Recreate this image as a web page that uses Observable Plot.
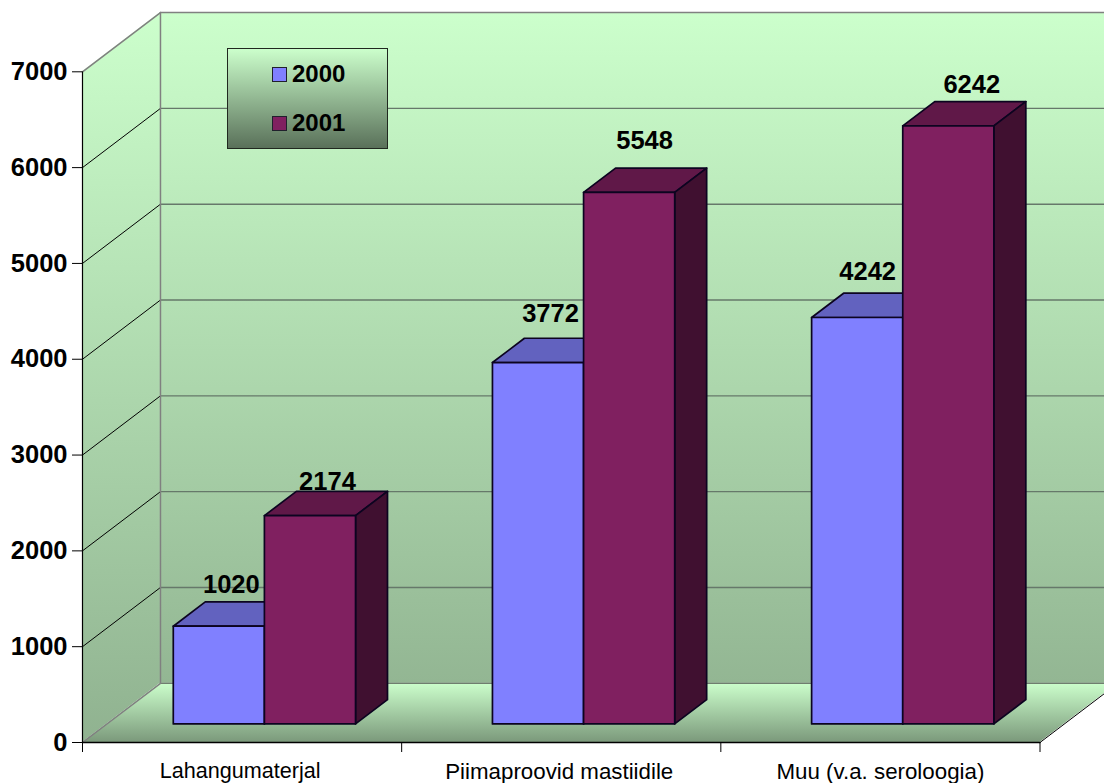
<!DOCTYPE html>
<html>
<head>
<meta charset="utf-8">
<script src="https://cdn.jsdelivr.net/npm/d3@7"></script>
<script src="https://cdn.jsdelivr.net/npm/@observablehq/plot@0.6"></script>
<style>
html,body{margin:0;padding:0;background:#fff;overflow:hidden}
svg{overflow:hidden}
</style>
</head>
<body>
<script>
// ---- data ----
const categories = ["Lahangumaterjal", "Piimaproovid mastiidile", "Muu (v.a. seroloogia)"];
const years = ["2000", "2001"];
const values2000 = [1020, 3772, 4242];
const values2001 = [2174, 5548, 6242];
const yTicks = [0, 1000, 2000, 3000, 4000, 5000, 6000, 7000];

// ---- layout: the 3D box expressed in chart units ----
const yMax = 7000;
const depthX = 0.2443;      // category units moved per full depth
const depthY = 618;         // value units moved per full depth
const barZ0 = 0.305, barZ1 = 0.715;
const barGap = 0.2115, barW = 0.2855;
const P = (c, v, z = 0) => ({x: c + z * depthX, y: v + z * depthY});

// per-label pixel nudges (hand-placed labels in the original), indexed category/series
const nudges = [[[-4, -30], [1, -22]], [[-4, -37], [-1, -40]], [[-6, -34], [7, -29]]];
const categoryFont = [{size: 21.6, dx: -2}, {size: 22.3, dx: -2}, {size: 22.3, dx: 0}];

const seriesStyle = [
  {front: "#8080ff", top: "#6262bf", side: "#404080"},
  {front: "#802060", top: "#601848", side: "#401030"}
];
const barStroke = "#0c0420";

const quad = (a, b, c, d, opts) => Plot.area(
  [{x1: a.x, y1: a.y, x2: d.x, y2: d.y}, {x1: b.x, y1: b.y, x2: c.x, y2: c.y}],
  {x1: "x1", y1: "y1", x2: "x2", y2: "y2", ...opts}
);
const seg = (a, b, opts) => Plot.line([a, b], {x: "x", y: "y", ...opts});

const defs = () => {
  const d = d3.create("svg:defs");
  const grad = (id, stops) => {
    const g = d.append("linearGradient").attr("id", id).attr("x1", 0).attr("y1", 0).attr("x2", 0).attr("y2", 1);
    stops.forEach(([o, c]) => g.append("stop").attr("offset", o).attr("stop-color", c));
  };
  grad("wall", [[0, "#ccffcc"], [1, "#93b693"]]);
  grad("side", [[0, "#ccffcc"], [1, "#90b290"]]);
  grad("floor", [[0, "#ccffcc"], [1, "#7b997b"]]);
  grad("legend", [[0, "#ccffcc"], [1, "#597059"]]);
  return d.node();
};

const marks = [defs];

// walls and floor
marks.push(quad(P(0, 0, 1), P(0, yMax, 1), P(3.5, yMax, 1), P(3.5, 0, 1), {fill: "url(#wall)"}));
marks.push(quad(P(0, 0, 0), P(0, yMax, 0), P(0, yMax, 1), P(0, 0, 1), {fill: "url(#side)"}));
marks.push(quad(P(0, 0, 0), P(0, 0, 1), P(3, 0, 1), P(3, 0, 0), {fill: "url(#floor)"}));

// grid on walls
yTicks.filter(v => v > 0 && v < yMax).forEach(v => {
  marks.push(seg(P(0, v, 1), P(3.5, v, 1), {stroke: "#66786a", strokeWidth: 1.4}));
  marks.push(seg(P(0, v, 0), P(0, v, 1), {stroke: "#000", strokeWidth: 1}));
});
// wall edges
marks.push(seg(P(0, yMax, 1), P(3.5, yMax, 1), {stroke: "#808080", strokeWidth: 1.5}));
marks.push(seg(P(0, 0, 1), P(3.5, 0, 1), {stroke: "#6f7f6f", strokeWidth: 1.5}));
marks.push(seg(P(0, 0, 1), P(0, yMax, 1), {stroke: "#808080", strokeWidth: 1.5}));
marks.push(seg(P(0, yMax, 0), P(0, yMax, 1), {stroke: "#808080", strokeWidth: 1.5}));
marks.push(seg(P(0, 0, 0), P(0, 0, 1), {stroke: "#808080", strokeWidth: 1.5}));
marks.push(seg(P(3, 0, 0), P(3, 0, 1), {stroke: "#000", strokeWidth: 1}));
marks.push(seg(P(0, 0, 0), P(0, yMax, 0), {stroke: "#000", strokeWidth: 1.2}));
marks.push(seg(P(0, 0, 0), P(3, 0, 0), {stroke: "#000", strokeWidth: 1.5}));

// bars
[values2000, values2001].forEach((vals, s) => {
  const st = seriesStyle[s];
  const o = {stroke: barStroke, strokeWidth: 1.7, strokeLinejoin: "round"};
  vals.forEach((v, c) => {
    const x0 = c + barGap + s * barW, x1 = x0 + barW;
    marks.push(quad(P(x0, v, barZ0), P(x0, v, barZ1), P(x1, v, barZ1), P(x1, v, barZ0), {fill: st.top, ...o}));
    marks.push(quad(P(x1, 0, barZ0), P(x1, v, barZ0), P(x1, v, barZ1), P(x1, 0, barZ1), {fill: st.side, ...o}));
    marks.push(quad(P(x0, 0, barZ0), P(x0, v, barZ0), P(x1, v, barZ0), P(x1, 0, barZ0), {fill: st.front, ...o}));
  });
});

// axes
const font = "'Liberation Sans', Arial, sans-serif";
marks.push(Plot.axisY({
  ticks: yTicks, tickSize: 10, tickPadding: 5, tickFormat: d => `${d}`, label: null,
  fontSize: 25.5, fontWeight: "bold", fill: "#000", stroke: "#000", strokeWidth: 1
}));
[0, 1, 2, 3].forEach(c => marks.push(Plot.ruleX([c], {x: d => d, y1: 0, y2: 0, stroke: "#000", strokeWidth: 1, insetBottom: -10})));
categories.forEach((name, c) => marks.push(Plot.text([name], {
  x: () => c + 0.5, y: () => 0, text: d => d, dy: 29, dx: categoryFont[c].dx,
  fontSize: categoryFont[c].size, fill: "#000", lineAnchor: "middle"
})));

// value labels
[values2000, values2001].forEach((vals, s) => {
  vals.forEach((v, c) => {
    const x0 = c + barGap + s * barW + barW / 2;
    const p = P(x0, v, (barZ0 + barZ1) / 2);
    const [dx, dy] = nudges[c][s];
    marks.push(Plot.text([p], {
      x: "x", y: "y", text: () => `${v}`, dx, dy, fontSize: 25.5, fontWeight: "bold",
      fill: "#000", lineAnchor: "middle"
    }));
  });
});

// legend box
marks.push(() => {
  const g = d3.create("svg:g").style("font-family", font).attr("text-anchor", "start");
  g.append("rect").attr("x", 227.5).attr("y", 48.5).attr("width", 160).attr("height", 100)
    .attr("fill", "url(#legend)").attr("stroke", "#20281f").attr("stroke-width", 1);
  years.forEach((yr, i) => {
    const y = 67 + i * 49;
    g.append("rect").attr("x", 272.5).attr("y", y + .5).attr("width", 14).attr("height", 14)
      .attr("fill", seriesStyle[i].front).attr("stroke", "#20202c").attr("stroke-width", 1);
    g.append("text").attr("x", 292).attr("y", y + 14.5).attr("font-size", 24)
      .attr("font-weight", "bold").attr("fill", "#000").text(yr);
  });
  return g.node();
});

const chart = Plot.plot({
  width: 1104, height: 783,
  marginLeft: 82, marginRight: 64.5, marginTop: 71.3, marginBottom: 41,
  style: {fontFamily: font, background: "#fff", overflow: "hidden"},
  x: {type: "linear", domain: [0, 3], axis: null},
  y: {type: "linear", domain: [0, yMax], axis: null, nice: false},
  marks
});
document.body.appendChild(chart);
</script>
</body>
</html>
